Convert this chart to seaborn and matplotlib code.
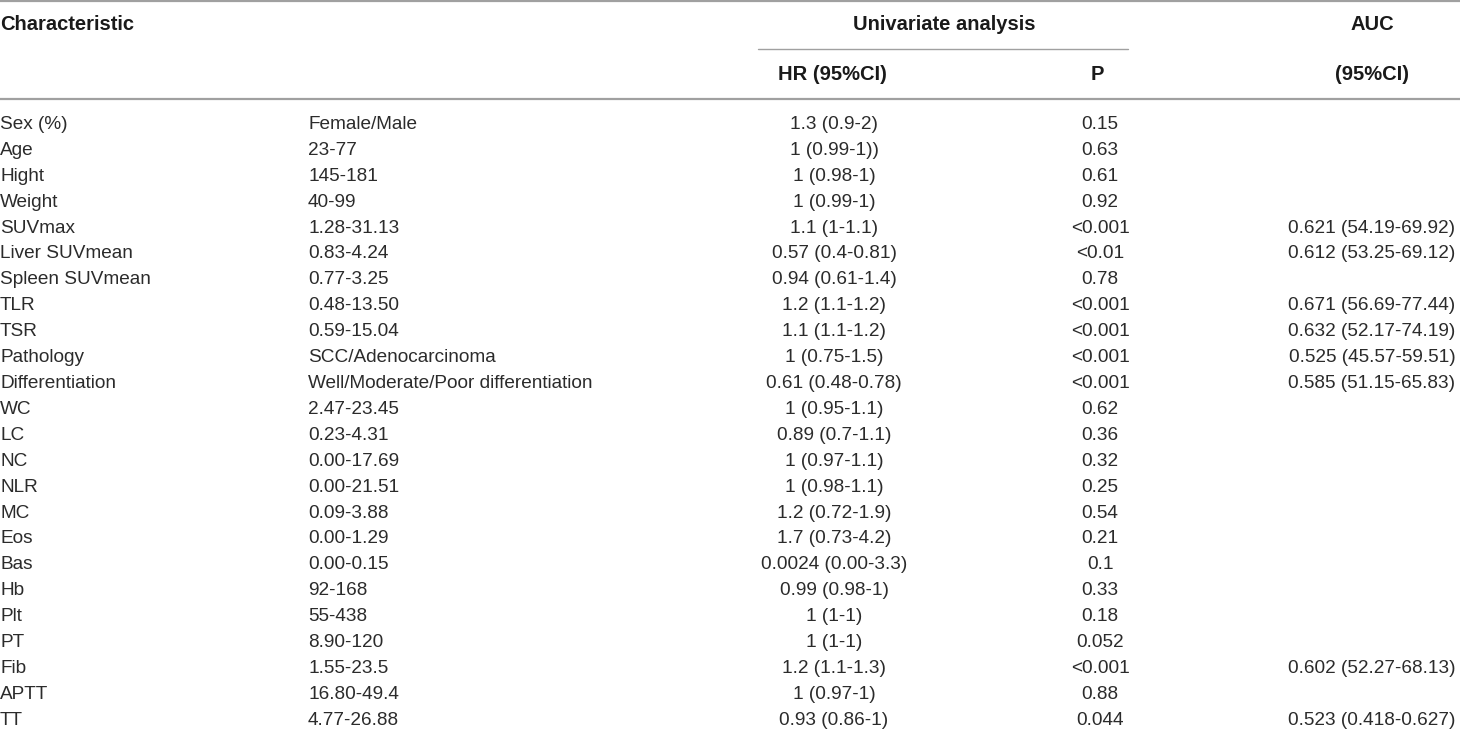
import matplotlib
matplotlib.use("Agg")
import matplotlib.pyplot as plt
import seaborn as sns

characteristic = ["Sex (%)", "Age", "Hight", "Weight", "SUVmax", "Liver SUVmean",
                  "Spleen SUVmean", "TLR", "TSR", "Pathology", "Differentiation",
                  "WC", "LC", "NC", "NLR", "MC", "Eos", "Bas", "Hb", "Plt", "PT",
                  "Fib", "APTT", "TT"]
ranges = ["Female/Male", "23-77", "145-181", "40-99", "1.28-31.13", "0.83-4.24",
          "0.77-3.25", "0.48-13.50", "0.59-15.04", "SCC/Adenocarcinoma",
          "Well/Moderate/Poor differentiation", "2.47-23.45", "0.23-4.31",
          "0.00-17.69", "0.00-21.51", "0.09-3.88", "0.00-1.29", "0.00-0.15",
          "92-168", "55-438", "8.90-120", "1.55-23.5", "16.80-49.4", "4.77-26.88"]
hr_ci = ["1.3 (0.9-2)", "1 (0.99-1))", "1 (0.98-1)", "1 (0.99-1)", "1.1 (1-1.1)",
         "0.57 (0.4-0.81)", "0.94 (0.61-1.4)", "1.2 (1.1-1.2)", "1.1 (1.1-1.2)",
         "1 (0.75-1.5)", "0.61 (0.48-0.78)", "1 (0.95-1.1)", "0.89 (0.7-1.1)",
         "1 (0.97-1.1)", "1 (0.98-1.1)", "1.2 (0.72-1.9)", "1.7 (0.73-4.2)",
         "0.0024 (0.00-3.3)", "0.99 (0.98-1)", "1 (1-1)", "1 (1-1)",
         "1.2 (1.1-1.3)", "1 (0.97-1)", "0.93 (0.86-1)"]
p_values = ["0.15", "0.63", "0.61", "0.92", "<0.001", "<0.01", "0.78", "<0.001",
            "<0.001", "<0.001", "<0.001", "0.62", "0.36", "0.32", "0.25", "0.54",
            "0.21", "0.1", "0.33", "0.18", "0.052", "<0.001", "0.88", "0.044"]
auc_ci = ["", "", "", "", "0.621 (54.19-69.92)", "0.612 (53.25-69.12)", "",
          "0.671 (56.69-77.44)", "0.632 (52.17-74.19)", "0.525 (45.57-59.51)",
          "0.585 (51.15-65.83)", "", "", "", "", "", "", "", "", "", "",
          "0.602 (52.27-68.13)", "", "0.523 (0.418-0.627)"]

sns.set_theme(style="white")
plt.rcParams['font.family'] = ['Liberation Sans', 'DejaVu Sans']

fig = plt.figure(figsize=(14.6, 7.32), dpi=100)
ax = fig.add_axes([0, 0, 1, 1])
ax.set_xlim(0, 1460)
ax.set_ylim(732, 0)
ax.axis("off")

fs = 13.7
hfs = 14.5
txt = "#2b2b2b"
htxt = "#1a1a1a"
line_c = "#a0a0a0"

# column positions
x_char, x_range, x_hr, x_p, x_auc = 0, 308, 834, 1100, 1372

# header
ax.axhline(1, color=line_c, lw=1.6)
ax.axhline(98.5, color=line_c, lw=1.6)
ax.plot([758, 1128], [49, 49], color=line_c, lw=1)
ax.text(x_char, 25, "Characteristic", fontsize=hfs, fontweight="bold", color=htxt, va="center")
ax.text(944, 25, "Univariate analysis", fontsize=hfs, fontweight="bold", color=htxt,
        va="center", ha="center")
ax.text(x_hr - 2, 75, "HR (95%CI)", fontsize=hfs, fontweight="bold", color=htxt,
        va="center", ha="center")
ax.text(x_p - 3, 75, "P", fontsize=hfs, fontweight="bold", color=htxt, va="center", ha="center")
ax.text(x_auc, 25, "AUC", fontsize=hfs, fontweight="bold", color=htxt, va="center", ha="center")
ax.text(x_auc, 75, "(95%CI)", fontsize=hfs, fontweight="bold", color=htxt,
        va="center", ha="center")

# body rows
y0, dy = 124.5, 25.9
for i in range(len(characteristic)):
    y = y0 + i * dy
    ax.text(x_char, y, characteristic[i], fontsize=fs, color=txt, va="center")
    ax.text(x_range, y, ranges[i], fontsize=fs, color=txt, va="center")
    ax.text(x_hr, y, hr_ci[i], fontsize=fs, color=txt, va="center", ha="center")
    ax.text(x_p, y, p_values[i], fontsize=fs, color=txt, va="center", ha="center")
    ax.text(x_auc, y, auc_ci[i], fontsize=fs, color=txt, va="center", ha="center")

fig.savefig("out.png", dpi=100)
